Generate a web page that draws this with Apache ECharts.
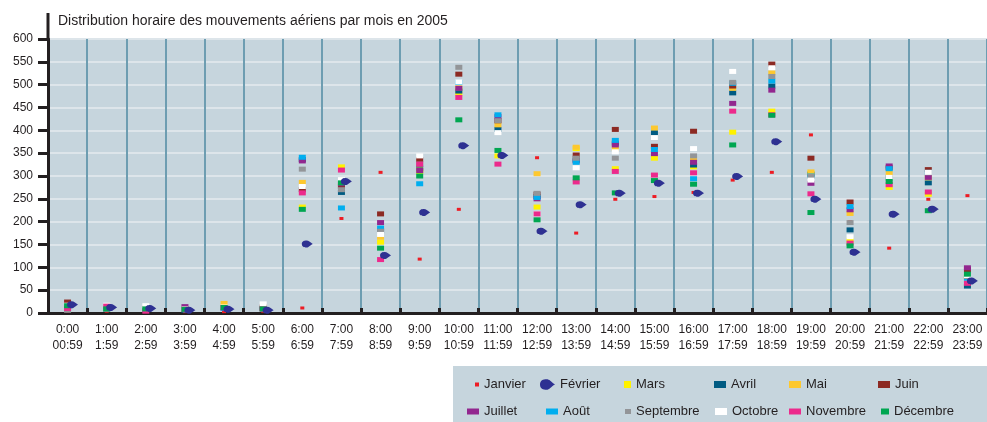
<!DOCTYPE html>
<html>
<head>
<meta charset="utf-8">
<script src="https://cdn.jsdelivr.net/npm/echarts@6/dist/echarts.min.js"></script>
<style>
  html, body { margin: 0; padding: 0; background: #fff; }
  #chart { width: 987px; height: 422px; }
</style>
</head>
<body>
<div id="chart"></div>
<script>
// Hour slots (tick labels)
const hourStart = ['0:00', '1:00', '2:00', '3:00', '4:00', '5:00', '6:00', '7:00', '8:00', '9:00', '10:00', '11:00',
  '12:00', '13:00', '14:00', '15:00', '16:00', '17:00', '18:00', '19:00', '20:00', '21:00', '22:00', '23:00']
const hourEnd = ['00:59', '1:59', '2:59', '3:59', '4:59', '5:59', '6:59', '7:59', '8:59', '9:59', '10:59', '11:59',
  '12:59', '13:59', '14:59', '15:59', '16:59', '17:59', '18:59', '19:59', '20:59', '21:59', '22:59', '23:59']
const yTicks = [0, 50, 100, 150, 200, 250, 300, 350, 400, 450, 500, 550, 600]

const months = ['Janvier', 'Février', 'Mars', 'Avril', 'Mai', 'Juin', 'Juillet', 'Août', 'Septembre', 'Octobre', 'Novembre', 'Décembre']

// Movements per hour slot, one array per month
const janvier = [5, 4, 4, 3, 3, 4, 11, 207, 308, 118, 227, 344, 340, 175, 249, 255, 264, 291, 308, 390, 200, 142, 249, 257]
const fevrier = [18, 12, 10, 6, 8, 6, 151, 288, 126, 220, 366, 345, 179, 237, 262, 284, 262, 299, 375, 249, 133, 216, 227, 70]
const mars = [16, 10, 9, 8, 12, 9, 232, 320, 155, 310, 480, 344, 232, 360, 316, 339, 320, 396, 442, 306, 159, 275, 260, 80]
const avril = [15, 9, 8, 7, 11, 10, 336, 264, 180, 317, 486, 402, 255, 335, 372, 395, 324, 482, 497, 304, 182, 297, 285, 59]
const mai = [17, 10, 10, 8, 21, 10, 286, 280, 166, 313, 493, 412, 305, 363, 360, 405, 338, 492, 526, 309, 218, 306, 296, 78]
const juin = [24, 11, 10, 9, 12, 13, 270, 276, 217, 336, 523, 421, 260, 346, 402, 365, 398, 497, 545, 339, 243, 318, 314, 95]
const juillet = [14, 10, 9, 14, 11, 9, 333, 283, 198, 312, 492, 430, 250, 333, 368, 349, 330, 459, 488, 284, 226, 322, 297, 99]
const aout = [15, 9, 8, 7, 11, 9, 341, 230, 186, 283, 505, 434, 253, 330, 378, 358, 294, 503, 508, 300, 233, 316, 308, 76]
const septembre = [6, 8, 9, 8, 12, 10, 315, 270, 179, 326, 538, 421, 262, 339, 339, 384, 344, 505, 518, 299, 198, 295, 307, 80]
const octobre = [17, 17, 16, 9, 13, 20, 277, 292, 172, 344, 506, 395, 217, 318, 353, 384, 360, 529, 537, 291, 167, 297, 308, 82]
const novembre = [10, 15, 4, 8, 12, 9, 263, 313, 117, 326, 472, 326, 217, 287, 310, 302, 307, 442, 434, 261, 153, 281, 265, 65]
const decembre = [16, 9, 9, 8, 12, 9, 227, 285, 142, 300, 423, 356, 204, 296, 263, 290, 282, 368, 433, 220, 147, 288, 224, 85]

const monthData = [janvier, fevrier, mars, avril, mai, juin, juillet, aout, septembre, octobre, novembre, decembre]

const COLORS = ['#ed1c24', '#2e3192', '#fff200', '#005b82', '#fdc82f', '#8c2a23',
  '#92278f', '#00aeef', '#939598', '#ffffff', '#ec2a8c', '#00a651']

const BLOB = 'path://M0,5 C0,1 3,0 6,0 C9,0 10,2 14,5 C10,7 9,10 6,10 C3,10 0,9 0,5 Z'
const TEXT = '#231f20'
const FONT = 'Liberation Sans'

// legend slots: [left, top, itemWidth, itemHeight]
const legendSlots = [
  [475, 378, 4, 4], [540, 378, 15, 11], [624, 378, 7, 7], [714, 378, 12, 7], [789, 378, 12, 7], [878, 378, 12, 7],
  [467, 405, 12, 6], [546, 405, 12, 6], [625, 405, 6, 5], [715, 405, 12, 7], [789, 405, 12, 6], [881, 405, 8, 6]
]

const chart = echarts.init(document.getElementById('chart'))

const series = months.map((name, i) => ({
  name,
  type: 'scatter',
  data: monthData[i],
  symbol: i === 1 ? BLOB : 'rect',
  symbolSize: i === 0 ? [4, 3] : (i === 1 ? [11, 7] : [7, 5]),
  symbolOffset: i === 1 ? [5, 0] : [0, 0],
  z: i === 1 ? 4 : 3,
  itemStyle: { color: COLORS[i], opacity: 1 },
  emphasis: { disabled: true }
}))

const legends = months.map((name, i) => ({
  data: [{ name, icon: i === 1 ? BLOB : 'rect' }],
  left: legendSlots[i][0],
  top: legendSlots[i][1],
  itemWidth: legendSlots[i][2],
  itemHeight: legendSlots[i][3],
  padding: 0,
  selectedMode: false,
  textStyle: { fontSize: 13, color: TEXT, fontFamily: FONT }
}))

chart.setOption({
  animation: false,
  title: {
    text: 'Distribution horaire des mouvements aériens par mois en 2005',
    left: 53,
    top: 9,
    textStyle: { fontSize: 14, fontWeight: 'normal', color: TEXT, fontFamily: FONT }
  },
  legend: legends,
  grid: {
    left: 48,
    right: 0,
    top: 39,
    bottom: 109,
    show: true,
    backgroundColor: '#c6d5dd',
    borderWidth: 0
  },
  xAxis: {
    type: 'category',
    data: hourStart,
    boundaryGap: true,
    axisLine: { lineStyle: { color: TEXT, width: 3 } },
    axisTick: { show: true, inside: true, length: 5, lineStyle: { color: TEXT, width: 3 } },
    splitLine: { show: true, interval: 0, lineStyle: { color: '#6d9db1', width: 2 } },
    axisLabel: {
      interval: 0,
      margin: 9,
      fontSize: 12,
      lineHeight: 16,
      color: TEXT,
      fontFamily: FONT,
      formatter: (v, idx) => v + '\n' + hourEnd[idx]
    }
  },
  yAxis: {
    type: 'value',
    min: yTicks[0],
    max: yTicks[yTicks.length - 1],
    interval: 50,
    axisLine: { show: true, lineStyle: { color: TEXT, width: 3 } },
    axisTick: { show: true, length: 10, lineStyle: { color: TEXT, width: 3 } },
    splitLine: { show: true, lineStyle: { color: '#dde5ea', width: 2 } },
    axisLabel: { margin: 15, fontSize: 12, color: TEXT, fontFamily: FONT }
  },
  graphic: [
    {
      type: 'line',
      shape: { x1: 48, y1: 13, x2: 48, y2: 40 },
      style: { stroke: TEXT, lineWidth: 3 },
      z: 10
    },
    {
      type: 'rect',
      shape: { x: 453, y: 366, width: 534, height: 56 },
      style: { fill: '#c6d5dd' },
      z: -1
    }
  ],
  series
})
</script>
</body>
</html>
